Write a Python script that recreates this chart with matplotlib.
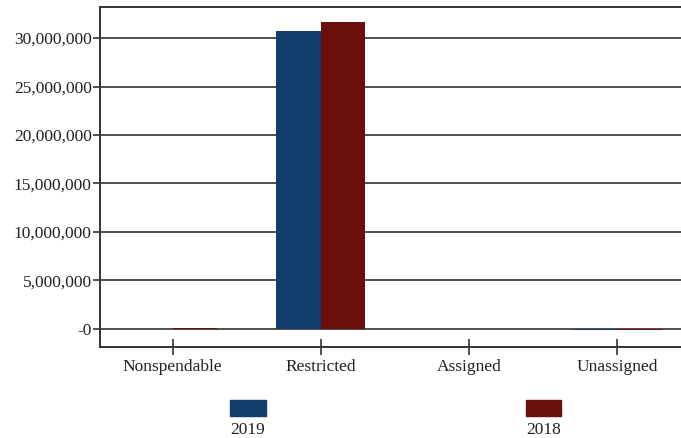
import matplotlib.pyplot as plt
from matplotlib.patches import Rectangle
from matplotlib.ticker import FuncFormatter
import numpy as np

categories = ["Nonspendable", "Restricted", "Assigned", "Unassigned"]
values_2019 = [0, 30720000, 0, -100000]
values_2018 = [100000, 31650000, 0, -100000]
years = ["2019", "2018"]
colors = ["#123c6c", "#6a0f0b"]

plt.rcParams['font.family'] = ['Liberation Serif', 'DejaVu Serif']
plt.rcParams['font.size'] = 12.5

fig = plt.figure(figsize=(6.81, 4.38), dpi=100)
ax = fig.add_axes([0.147, 0.208, 0.853, 0.776])

x = np.arange(len(categories))
w = 0.3
ax.bar(x - w / 2, values_2019, w, color=colors[0], zorder=3)
ax.bar(x + w / 2, values_2018, w, color=colors[1], zorder=3)

ax.set_xlim(-0.49, 3.43)
ax.set_ylim(-1856000, 33200000)
ax.set_yticks(np.arange(0, 30000001, 5000000))
ax.yaxis.set_major_formatter(FuncFormatter(lambda v, p: "-0" if v == 0 else f"{int(v):,}"))
ax.yaxis.grid(True, color="#505050", linewidth=1.4, zorder=1)
ax.set_xticks(x)
ax.set_xticklabels(categories)

ax.tick_params(axis="y", direction="out", length=5, width=1.2, color="#333333", pad=1, labelcolor="#222222")
ax.tick_params(axis="x", direction="inout", length=12, width=1.2, color="#333333", pad=3, labelcolor="#222222")

for side in ["left", "bottom", "top"]:
    ax.spines[side].set_color("#333333")
    ax.spines[side].set_linewidth(1.4)
ax.spines["right"].set_visible(False)

# legend: colour swatch with the year underneath
legend_x = [0.364, 0.798]
for lx, year, c in zip(legend_x, years, colors):
    fig.add_artist(Rectangle((lx - 0.026, 0.05), 0.052, 0.037, color=c, transform=fig.transFigure))
    fig.text(lx, 0.018, year, ha="center", va="center", color="#222222")

plt.savefig("out.png", dpi=100)
